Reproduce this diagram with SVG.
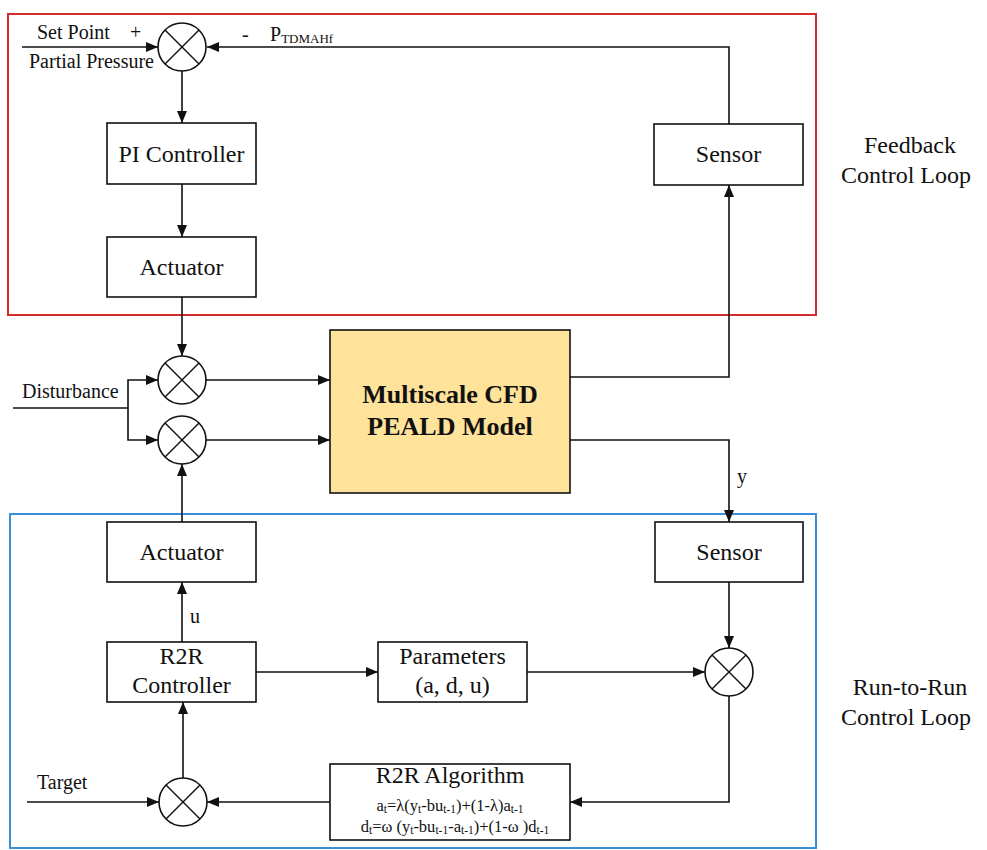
<svg xmlns="http://www.w3.org/2000/svg" width="987" height="850" viewBox="0 0 987 850">
<style>
text{font-family:"Liberation Serif","Times New Roman",serif;fill:#111}
.box{fill:#fff;stroke:#111;stroke-width:1.6}
.sum{fill:#fff;stroke:#111;stroke-width:1.6}
.x{stroke:#111;stroke-width:1.4}
.c{fill:none;stroke:#111;stroke-width:1.6}
.lbl{font-size:24px;text-anchor:middle}
.sm{font-size:20px}
.eq{font-size:16.5px;text-anchor:middle}
.sub{font-size:11.5px}
.side{font-size:24px;text-anchor:middle}
</style>
<defs>
<marker id="ah" viewBox="0 0 12 10" refX="12" refY="5" markerWidth="12" markerHeight="10" orient="auto" markerUnits="userSpaceOnUse"><path d="M0,0 L12,5 L0,10 z" fill="#111"/></marker>
<g id="xsum"><circle class="sum" cx="0" cy="0" r="24"/><line class="x" x1="-17" y1="-17" x2="17" y2="17"/><line class="x" x1="17" y1="-17" x2="-17" y2="17"/></g>
</defs>
<rect width="987" height="850" fill="#fff"/>

<g id="loops">
<rect x="8" y="14" width="808" height="301" fill="none" stroke="#D42B2B" stroke-width="2"/>
<rect x="10" y="514" width="806" height="334" fill="none" stroke="#3B8ED8" stroke-width="2"/>
<text class="side" x="910" y="153">Feedback</text>
<text class="side" x="906" y="183">Control Loop</text>
<text class="side" x="910" y="695">Run-to-Run</text>
<text class="side" x="906" y="725">Control Loop</text>
</g>

<g id="connectors">
<path class="c" d="M22,47 H158" marker-end="url(#ah)"/>
<path class="c" d="M729,124 V47 H207" marker-end="url(#ah)"/>
<path class="c" d="M182,71 V123" marker-end="url(#ah)"/>
<path class="c" d="M182,184 V237" marker-end="url(#ah)"/>
<path class="c" d="M182,297 V356" marker-end="url(#ah)"/>
<path class="c" d="M13,408 H128"/>
<path class="c" d="M128,408 V380 H158" marker-end="url(#ah)"/>
<path class="c" d="M128,408 V440 H158" marker-end="url(#ah)"/>
<path class="c" d="M206,380 H330" marker-end="url(#ah)"/>
<path class="c" d="M206,440 H330" marker-end="url(#ah)"/>
<path class="c" d="M570,377 H729 V185" marker-end="url(#ah)"/>
<path class="c" d="M570,440 H729 V522" marker-end="url(#ah)"/>
<path class="c" d="M182,522 V464" marker-end="url(#ah)"/>
<path class="c" d="M182,642 V582" marker-end="url(#ah)"/>
<path class="c" d="M256,672 H378" marker-end="url(#ah)"/>
<path class="c" d="M527,672 H705" marker-end="url(#ah)"/>
<path class="c" d="M729,582 V648" marker-end="url(#ah)"/>
<path class="c" d="M729,696 V802 H570" marker-end="url(#ah)"/>
<path class="c" d="M330,802 H207" marker-end="url(#ah)"/>
<path class="c" d="M27,802 H159" marker-end="url(#ah)"/>
<path class="c" d="M183,778 V702" marker-end="url(#ah)"/>
<text class="sm" x="37" y="39">Set Point</text>
<text class="sm" x="130" y="39">+</text>
<text class="sm" x="29" y="68">Partial Pressure</text>
<text class="sm" x="242" y="41">-</text>
<text class="sm" x="270" y="41">P<tspan font-size="13" dy="2">TDMAHf</tspan></text>
<text class="sm" x="22" y="398">Disturbance</text>
<text class="sm" x="737" y="483">y</text>
<text class="sm" x="190" y="623">u</text>
<text class="sm" x="37" y="789">Target</text>
</g>

<g id="sum-top"><use href="#xsum" x="182" y="47"/></g>
<g id="pi-controller"><rect class="box" x="107" y="123" width="149" height="61"/><text class="lbl" x="181.5" y="162">PI Controller</text></g>
<g id="actuator-top"><rect class="box" x="107" y="237" width="149" height="60"/><text class="lbl" x="181.5" y="275">Actuator</text></g>
<g id="sensor-top"><rect class="box" x="654" y="124" width="149" height="61"/><text class="lbl" x="728.5" y="162">Sensor</text></g>
<g id="sum-mid1"><use href="#xsum" x="182" y="380"/></g>
<g id="sum-mid2"><use href="#xsum" x="182" y="440"/></g>
<g id="cfd-model"><rect x="330" y="330" width="240" height="163" fill="#FFE39A" stroke="#111" stroke-width="1.6"/>
<text x="450" y="403" font-size="26" font-weight="bold" text-anchor="middle">Multiscale CFD</text>
<text x="450" y="435" font-size="26" font-weight="bold" text-anchor="middle">PEALD Model</text></g>
<g id="actuator-bottom"><rect class="box" x="107" y="522" width="149" height="60"/><text class="lbl" x="181.5" y="560">Actuator</text></g>
<g id="sensor-bottom"><rect class="box" x="655" y="522" width="148" height="60"/><text class="lbl" x="729" y="560">Sensor</text></g>
<g id="r2r-controller"><rect class="box" x="107" y="642" width="149" height="60"/><text class="lbl" x="181.5" y="664">R2R</text><text class="lbl" x="181.5" y="693">Controller</text></g>
<g id="parameters"><rect class="box" x="378" y="642" width="149" height="60"/><text class="lbl" x="452.5" y="664">Parameters</text><text class="lbl" x="452.5" y="693">(a, d, u)</text></g>
<g id="sum-right"><use href="#xsum" x="729" y="672"/></g>
<g id="sum-bottom"><use href="#xsum" x="183" y="802"/></g>
<g id="r2r-algorithm"><rect class="box" x="330" y="764" width="240" height="76"/>
<text x="450" y="783" font-size="24" text-anchor="middle">R2R Algorithm</text>
<text class="eq" x="450" y="811">a<tspan class="sub" dy="2">t</tspan><tspan dy="-2">=λ(y</tspan><tspan class="sub" dy="2">t</tspan><tspan dy="-2">-bu</tspan><tspan class="sub" dy="2">t-1</tspan><tspan dy="-2">)+(1-λ)a</tspan><tspan class="sub" dy="2">t-1</tspan></text>
<text class="eq" x="455" y="832">d<tspan class="sub" dy="2">t</tspan><tspan dy="-2">=ω (y</tspan><tspan class="sub" dy="2">t</tspan><tspan dy="-2">-bu</tspan><tspan class="sub" dy="2">t-1</tspan><tspan dy="-2">-a</tspan><tspan class="sub" dy="2">t-1</tspan><tspan dy="-2">)+(1-ω )d</tspan><tspan class="sub" dy="2">t-1</tspan></text></g>
</svg>
